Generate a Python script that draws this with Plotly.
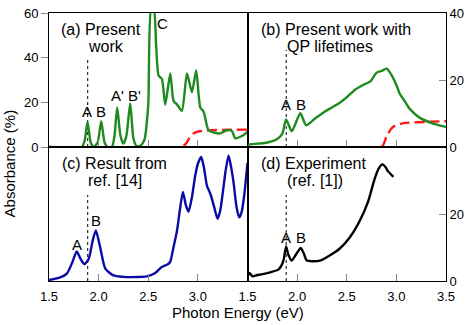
import plotly.graph_objects as go

# ---------------- data ----------------
# (a) Present work
a_E = [1.5, 1.83, 1.86, 1.888, 1.92, 1.95, 1.99, 2.026, 2.06, 2.09, 2.134, 2.16, 2.187, 2.22, 2.25,
       2.28, 2.318, 2.35, 2.38, 2.42, 2.46, 2.50, 2.53, 2.555, 2.58, 2.604, 2.638, 2.671, 2.722,
       2.755, 2.789, 2.839, 2.89, 2.94, 2.983, 3.024, 3.057, 3.107, 3.16, 3.225, 3.292, 3.343,
       3.376, 3.443, 3.5]
a_abs = [0, 0, 3, 11.2, 2, 0, 2, 11.6, 2, 0, 0, 5, 17.7, 5, 1.5,
         5, 19.5, 4, 0.5, 0.5, 3, 19, 62, 62, 45, 32, 30.4, 19, 32.9,
         20.6, 19.1, 16.2, 32.9, 24.6, 34.3, 17.7, 15.9, 7.5, 6.5, 6.1, 7.5, 7.2,
         3.9, 4.9, 6.8]
a_exp_E = [1.5, 2.84, 2.88, 2.92, 2.96, 3.0, 3.09, 3.3, 3.5]
a_exp = [0, 0, 1.5, 4.4, 6.2, 6.9, 7.4, 7.7, 7.8]

# (b) Present work with QP lifetimes
b_E = [1.5, 1.6, 1.7, 1.8, 1.85, 1.889, 1.946, 2.032, 2.09, 2.18, 2.27, 2.35, 2.43, 2.51, 2.584,
       2.684, 2.735, 2.802, 2.852, 2.902, 2.953, 3.0, 3.036, 3.09, 3.137, 3.237, 3.371, 3.5]
b_abs = [0.7, 1.0, 1.35, 2.4, 3.9, 8.2, 4.7, 10.1, 6.5, 8.5, 10.4, 11.8, 13.2, 15.1, 17.1,
         18.8, 19.5, 22.2, 22.7, 23.4, 21.4, 18.5, 15.8, 13.4, 11.3, 8.7, 7.0, 6.0]
b_exp_E = [1.5, 2.85, 2.9, 2.95, 2.99, 3.05, 3.1, 3.3, 3.5]
b_exp = [0, 0, 3.1, 5.5, 6.5, 7.0, 7.2, 7.5, 7.7]

# (c) Result from ref. [14]
c_E = [1.5, 1.613, 1.68, 1.73, 1.78, 1.82, 1.857, 1.9, 1.94, 1.972, 2.016, 2.067, 2.15, 2.284,
       2.485, 2.57, 2.636, 2.697, 2.722, 2.754, 2.789, 2.82, 2.849, 2.88, 2.906, 2.94, 2.973,
       3.0, 3.034, 3.06, 3.091, 3.131, 3.165, 3.198, 3.225, 3.252, 3.28, 3.309, 3.335, 3.359,
       3.39, 3.416, 3.44, 3.467, 3.5]
c_abs = [0.3, 1.07, 2.2, 5.2, 8.8, 6.5, 5.0, 6.6, 12, 15.1, 10, 3.7, 1.65, 1.17,
         1.36, 2.4, 4.2, 5.0, 5.8, 10, 14.9, 21.5, 26.6, 22.5, 20.7, 25, 31.4,
         35, 37, 34, 28.5, 25.6, 22, 18.6, 21, 26.6, 33, 37.5, 34, 29.5,
         22, 19, 20.5, 25.6, 35.3]

# (d) Experiment (ref. [1])
d_E = [1.5, 1.52, 1.55, 1.6, 1.628, 1.73, 1.81, 1.846, 1.865, 1.889, 1.91, 1.946, 1.99, 2.037,
       2.07, 2.097, 2.231, 2.332, 2.43, 2.53, 2.63, 2.715, 2.78, 2.82, 2.86, 2.89, 2.915, 2.97]
d_abs = [1.45, 2.4, 1.4, 1.8, 1.9, 2.6, 3.4, 4.8, 6.5, 10.3, 8, 6.1, 8, 9.9,
         8, 6.1, 6.1, 7.7, 9.7, 13, 17.9, 23.7, 30.4, 33.5, 34.8, 34, 32.8, 31.1]

marker_E = 1.89
marker_tops = [40, 29, 25.7, 25.7]

y_left_ticks = [0, 20, 40, 60]
y_right_ticks_top = [0, 20, 40]
y_right_ticks_bottom = [0, 20]
x_ticks_left = [1.5, 2.0, 2.5, 3.0]
x_ticks_right = [1.5, 2.0, 2.5, 3.0, 3.5]

# ---------------- figure ----------------
FONT = "Liberation Sans, Arial, sans-serif"
GREEN = "#1f8a1f"
RED = "#ff1a1a"
BLUE = "#0a0aa8"
LW = 2.4

fig = go.Figure()


def line(x, y, xa, ya, color, dash=None, width=LW):
    fig.add_trace(go.Scatter(x=x, y=y, xaxis=xa, yaxis=ya, mode="lines",
                             line=dict(color=color, width=width, dash=dash, shape="spline", smoothing=0.6),
                             showlegend=False, hoverinfo="skip"))


axes = [("x", "y"), ("x2", "y2"), ("x3", "y3"), ("x4", "y4")]
for (xa, ya), top in zip(axes, marker_tops):
    fig.add_trace(go.Scatter(x=[marker_E, marker_E], y=[0, top], xaxis=xa, yaxis=ya, mode="lines",
                             line=dict(color="black", width=1, dash="dot"), showlegend=False,
                             hoverinfo="skip"))

line(a_exp_E, a_exp, "x", "y", RED, dash="10px,5px")
line(a_E, a_abs, "x", "y", GREEN)
line(b_exp_E, b_exp, "x2", "y2", RED, dash="10px,5px")
line(b_E, b_abs, "x2", "y2", GREEN)
line(c_E, c_abs, "x3", "y3", BLUE)
line(d_E, d_abs, "x4", "y4", "black")

common_axis = dict(showline=True, mirror=True, linecolor="black", linewidth=1,
                   showgrid=False, zeroline=False,
                   tickfont=dict(family=FONT, size=13, color="black"),
                   tickcolor="#888888", tickwidth=1, ticklabeloverflow="allow")

xr = [1.5, 3.5]
fig.update_layout(
    xaxis=dict(domain=[0, 0.5], range=xr, anchor="y", tickvals=[2.0, 2.5, 3.0], ticks="inside",
               ticklen=7, showticklabels=False, **common_axis),
    yaxis=dict(domain=[0.5, 1], range=[0, 60], anchor="x", tickvals=y_left_ticks, ticks="outside",
               ticklen=7, **common_axis),
    xaxis2=dict(domain=[0.5, 1], range=xr, anchor="y2", tickvals=[2.0, 2.5, 3.0], ticks="inside",
                ticklen=7, showticklabels=False, **common_axis),
    yaxis2=dict(domain=[0.5, 1], range=[0, 40], anchor="x2", side="right", tickvals=y_right_ticks_top,
                ticks="inside", ticklen=7, **common_axis),
    xaxis3=dict(domain=[0, 0.5], range=xr, anchor="y3", tickvals=x_ticks_left,
                ticktext=["1.5", "2.0", "2.5", "3.0"], ticks="inside", ticklen=7,
                ticklabelstandoff=3, **common_axis),
    yaxis3=dict(domain=[0, 0.5], range=[0, 40], anchor="x3", showticklabels=False, ticks="",
                **common_axis),
    xaxis4=dict(domain=[0.5, 1], range=xr, anchor="y4", tickvals=x_ticks_right,
                ticktext=["1.5", "2.0", "2.5", "3.0", "3.5"], ticks="inside", ticklen=7,
                ticklabelstandoff=3, **common_axis),
    yaxis4=dict(domain=[0, 0.5], range=[0, 40], anchor="x4", side="right", tickvals=y_right_ticks_bottom,
                ticks="inside", ticklen=7, **common_axis),
    width=471, height=325,
    margin=dict(l=49, r=25, t=6, b=44),
    paper_bgcolor="white", plot_bgcolor="white",
    font=dict(family=FONT, size=13, color="black"),
)

TF = dict(family=FONT, size=16, color="black")
PF = dict(family=FONT, size=15, color="black")


def ann(text, x, y, xr_, yr_, font, xanchor="left"):
    fig.add_annotation(text=text, x=x, y=y, xref=xr_, yref=yr_, showarrow=False, font=font,
                       xanchor=xanchor, yanchor="middle")


# panel titles
ann("(a) Present", 1.604, 52.6, "x", "y", TF)
ann("work", 1.876, 45.2, "x", "y", TF)
ann("(b) Present work with", 1.611, 35.1, "x2", "y2", TF)
ann("QP lifetimes", 1.873, 29.9, "x2", "y2", TF)
ann("(c) Result from", 1.607, 35.2, "x3", "y3", TF)
ann("ref. [14]", 1.876, 30.0, "x3", "y3", TF)
ann("(d) Experiment", 1.611, 35.1, "x4", "y4", TF)
ann("(ref. [1])", 1.873, 30.0, "x4", "y4", TF)

# peak labels
ann("A", 1.886, 15.7, "x", "y", PF, "center")
ann("B", 2.027, 15.7, "x", "y", PF, "center")
ann("A'", 2.19, 23.2, "x", "y", PF, "center")
ann("B'", 2.366, 23.2, "x", "y", PF, "center")
ann("C", 2.644, 55.3, "x", "y", PF, "center")
ann("A", 1.89, 12.6, "x2", "y2", PF, "center")
ann("B", 2.034, 12.6, "x2", "y2", PF, "center")
ann("A", 1.782, 11.0, "x3", "y3", PF, "center")
ann("B", 1.976, 18.1, "x3", "y3", PF, "center")
ann("A", 1.89, 13.1, "x4", "y4", PF, "center")
ann("B", 2.04, 13.1, "x4", "y4", PF, "center")

# axis titles
fig.add_annotation(text="Absorbance (%)", x=-0.0999, y=0.44, xref="paper", yref="paper",
                   showarrow=False, textangle=-90, font=dict(family=FONT, size=15, color="black"),
                   xanchor="center", yanchor="middle")
fig.add_annotation(text="Photon Energy (eV)", x=0.475, y=-0.1164, xref="paper", yref="paper",
                   showarrow=False, font=dict(family=FONT, size=15, color="black"),
                   xanchor="center", yanchor="middle")

fig.write_html("out.html", config={"displayModeBar": False},
               post_script="document.body.style.margin='0';")
